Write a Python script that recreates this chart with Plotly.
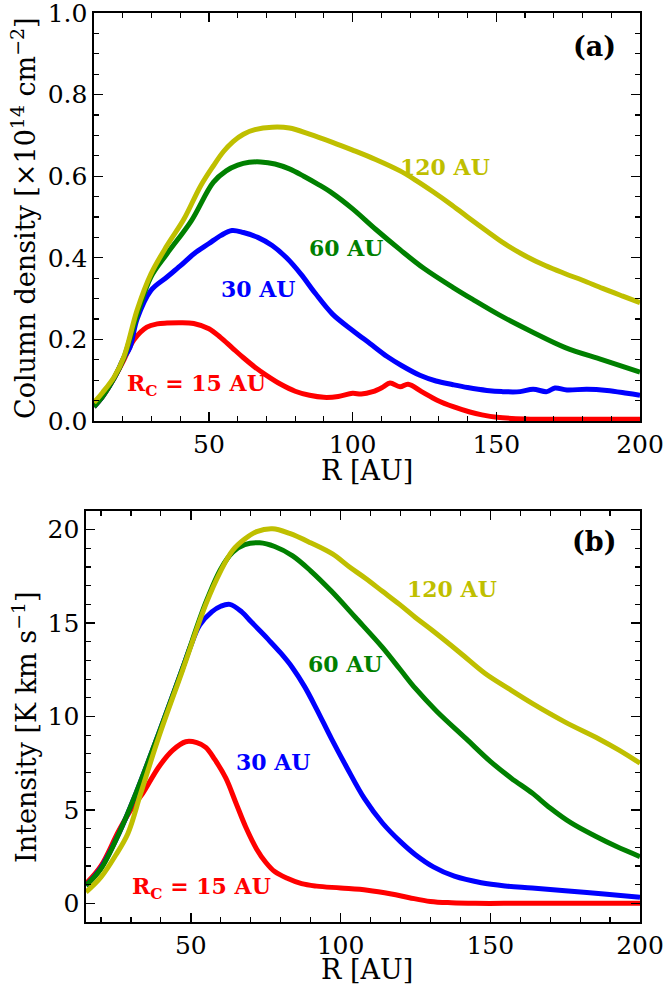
import plotly.graph_objects as go

# ---------------- Panel (a): column density [1e14 cm^-2] vs R [AU] ----------------
cd_r_120 = [10, 13, 17, 20.4, 25, 29.8, 35.4, 41.3, 47, 51.5, 55, 58.4, 62, 66, 72, 78, 85, 93,
            100, 108, 116.5, 122, 128, 134, 140, 147, 153, 160, 167, 174, 180, 187, 194, 200]
cd_120 = [0.045, 0.07, 0.108, 0.157, 0.272, 0.36, 0.43, 0.495, 0.575, 0.625, 0.66, 0.685, 0.703,
          0.714, 0.72, 0.718, 0.703, 0.683, 0.664, 0.641, 0.613, 0.59, 0.562, 0.532, 0.5, 0.464, 0.434,
          0.405, 0.381, 0.361, 0.345, 0.325, 0.306, 0.29]

cd_r_60 = [10, 13, 17, 20.4, 25, 29.8, 35.4, 43.8, 51.5, 56, 60, 64, 68, 73, 78, 83, 88, 93, 100, 108,
           116.5, 125, 135, 142, 151, 162, 174, 187, 200]
cd_60 = [0.035, 0.06, 0.105, 0.155, 0.26, 0.353, 0.41, 0.49, 0.585, 0.613, 0.627, 0.634, 0.635, 0.630,
         0.618, 0.60, 0.58, 0.558, 0.52, 0.47, 0.42, 0.373, 0.327, 0.297, 0.26, 0.22, 0.18, 0.15, 0.12]

cd_r_30 = [10, 13, 17, 20.4, 22.5, 25, 29.8, 35.4, 40, 44.8, 50, 54.2, 58, 62, 67, 72, 77, 82, 87, 93,
           100, 106, 112, 117, 123.4, 129, 134.9, 140, 146.7, 152, 158.3, 162.8, 167.6, 170.4, 174.6,
           181.5, 188.5, 195.5, 200]
cd_30 = [0.035, 0.06, 0.105, 0.155, 0.18, 0.25, 0.32, 0.353, 0.38, 0.41, 0.435, 0.455, 0.467, 0.462,
         0.45, 0.43, 0.40, 0.36, 0.313, 0.262, 0.222, 0.19, 0.158, 0.136, 0.112, 0.098, 0.089, 0.082,
         0.075, 0.072, 0.072, 0.078, 0.072, 0.081, 0.076, 0.078, 0.075, 0.068, 0.063]

cd_r_15 = [10, 13, 17, 20.4, 23.9, 28.4, 32, 35.4, 40, 44.7, 50, 54, 58, 62, 66, 70, 75, 80, 85, 90,
           95, 100, 103, 107, 110.5, 113, 116.5, 119.3, 124, 129.4, 135, 140.8, 145, 150.2, 160, 175, 200]
cd_15 = [0.035, 0.06, 0.105, 0.15, 0.199, 0.23, 0.238, 0.24, 0.241, 0.239, 0.226, 0.205, 0.18, 0.155,
         0.132, 0.112, 0.09, 0.073, 0.063, 0.058, 0.06, 0.068, 0.066, 0.072, 0.083, 0.093, 0.084, 0.09,
         0.072, 0.051, 0.035, 0.022, 0.015, 0.009, 0.005, 0.004, 0.004]

# ---------------- Panel (b): intensity [K km s^-1] vs R [AU] ----------------
in_r_120 = [15, 20, 25, 29, 33.3, 39.3, 47.3, 55, 60, 64, 68, 72, 77.3, 83, 90, 97.3, 103, 108.3, 114,
            119.7, 125, 130.7, 140, 148.3, 156, 164, 175, 186.3, 193, 200]
in_120 = [0.6, 1.4, 2.6, 3.74, 5.9, 8.9, 12.5, 16.0, 17.8, 18.9, 19.5, 19.9, 20.05, 19.8, 19.3, 18.7,
          18.0, 17.4, 16.7, 16.0, 15.3, 14.6, 13.4, 12.3, 11.5, 10.7, 9.7, 8.8, 8.2, 7.5]

in_r_60 = [15, 20, 26, 31.7, 39.3, 47.3, 55, 60, 64, 68, 73, 78, 84, 90, 97, 105, 114, 120, 125, 132,
           142, 150, 157, 164, 170, 177, 185, 192, 200]
in_60 = [0.95, 1.85, 3.74, 5.9, 9.1, 12.6, 16.1, 17.9, 18.8, 19.2, 19.3, 19.1, 18.6, 17.8, 16.7, 15.3,
         13.7, 12.5, 11.5, 10.3, 8.8, 7.6, 6.7, 5.9, 5.1, 4.3, 3.6, 3.05, 2.5]

in_r_30 = [15, 20, 26, 31.7, 39.3, 47.3, 50, 53, 57, 60, 63, 67, 70, 73, 76, 80, 84, 88, 92, 97, 102,
           108, 114, 120, 125, 131, 138, 147, 155, 164, 175, 188, 200]
in_30 = [0.95, 1.9, 3.74, 5.9, 9.1, 12.6, 13.8, 14.9, 15.6, 15.9, 16.0, 15.6, 15.1, 14.6, 14.1, 13.4,
         12.6, 11.6, 10.4, 8.8, 7.3, 5.6, 4.3, 3.3, 2.6, 1.95, 1.45, 1.1, 0.93, 0.82, 0.67, 0.5, 0.33]

in_r_15 = [15, 20, 26, 31, 34, 39.3, 44, 48.3, 52, 55, 58, 61.7, 65, 68.3, 72, 75, 78, 82, 87, 92,
           100, 109, 117, 123, 130, 137, 145, 160, 180, 200]
in_15 = [1.05, 2.0, 3.9, 5.25, 5.9, 7.3, 8.2, 8.65, 8.6, 8.35, 7.7, 6.7, 5.4, 4.1, 2.9, 2.2, 1.7,
         1.35, 1.05, 0.92, 0.82, 0.7, 0.5, 0.3, 0.1, 0.03, 0.0, 0.0, 0.0, 0.0]

colors = {"15": "#ff0000", "30": "#0000ff", "60": "#008000", "120": "#bfbf00"}
FONT = "DejaVu Serif"
LW = 5
W, H = 666, 992
OFF = 0  # body margin is removed by the post script, so the figure sits at the window corner


def fx(px):
    return (px - OFF) / W


def fy(py):
    return 1 - (py - OFF) / H


fig = go.Figure()


def add(x, y, c, xa, ya):
    fig.add_trace(go.Scatter(x=x, y=y, mode="lines", xaxis=xa, yaxis=ya,
                             line=dict(color=c, width=LW, shape="spline", smoothing=1.0),
                             showlegend=False, hoverinfo="skip"))


add(cd_r_15, cd_15, colors["15"], "x", "y")
add(cd_r_30, cd_30, colors["30"], "x", "y")
add(cd_r_60, cd_60, colors["60"], "x", "y")
add(cd_r_120, cd_120, colors["120"], "x", "y")

add(in_r_15, in_15, colors["15"], "x2", "y2")
add(in_r_30, in_30, colors["30"], "x2", "y2")
add(in_r_60, in_60, colors["60"], "x2", "y2")
add(in_r_120, in_120, colors["120"], "x2", "y2")

tickfont = dict(family=FONT, size=25, color="black")
titlefont = dict(family=FONT, size=27, color="black")


def axis_common(minor_dtick):
    return dict(showline=True, linecolor="black", linewidth=1.6, mirror="allticks",
                ticks="inside", ticklen=9, tickwidth=1.4, tickcolor="black",
                showgrid=False, zeroline=False, tickfont=tickfont, automargin=False,
                ticklabeloverflow="allow", fixedrange=True,
                minor=dict(ticks="inside", ticklen=5, tickwidth=1.2, tickcolor="black",
                           showgrid=False, dtick=minor_dtick))


xa1 = axis_common(10)
xa1.update(domain=[fx(94), fx(640)], range=[10, 200], anchor="y", tick0=0, dtick=50)
ya1 = axis_common(0.05)
ya1.update(domain=[fy(421), fy(13)], range=[0, 1.0], anchor="x", tick0=0, dtick=0.2,
           tickformat=".1f")
xa2 = axis_common(10)
xa2.update(domain=[fx(86), fx(640)], range=[15, 200], anchor="y2", tick0=0, dtick=50)
ya2 = axis_common(1)
ya2.update(domain=[fy(922), fy(511)], range=[-1, 21], anchor="x2", tick0=0, dtick=5)

ann = []


def title(text, px, py, angle=0):
    ann.append(dict(text=text, x=fx(px), y=fy(py), xref="paper", yref="paper", showarrow=False,
                    textangle=angle, font=titlefont, xanchor="center", yanchor="middle"))


title("R [AU]", 367, 470)
title("Column density [×10<sup>14</sup> cm<sup>−2</sup>]", 24, 218, -90)
title("R [AU]", 367, 969)
title("Intensity [K km s<sup>−1</sup>]", 24, 727, -90)


def label(text, x, y, c, xr, yr, size=22):
    ann.append(dict(text="<b>" + text + "</b>", x=x, y=y, xref=xr, yref=yr, showarrow=False,
                    font=dict(family=FONT, size=size, color=c), xanchor="center", yanchor="middle"))


label("(a)", 184.3, 0.919, "black", "x", "y", size=27)
label("120 AU", 132.1, 0.623, colors["120"], "x", "y")
label("60 AU", 98, 0.424, colors["60"], "x", "y")
label("30 AU", 67.1, 0.324, colors["30"], "x", "y")
label("R<sub>C</sub> = 15 AU", 45.8, 0.088, colors["15"], "x", "y")

label("(b)", 184.8, 19.36, "black", "x2", "y2", size=27)
label("120 AU", 137.3, 16.8, colors["120"], "x2", "y2")
label("60 AU", 101.7, 12.8, colors["60"], "x2", "y2")
label("30 AU", 77.7, 7.54, colors["30"], "x2", "y2")
label("R<sub>C</sub> = 15 AU", 53.7, 0.8, colors["15"], "x2", "y2")

fig.update_layout(width=W, height=H, margin=dict(l=0, r=0, t=0, b=0, autoexpand=False),
                  paper_bgcolor="white", plot_bgcolor="white", hovermode=False,
                  xaxis=xa1, yaxis=ya1, xaxis2=xa2, yaxis2=ya2, annotations=ann,
                  font=dict(family=FONT, color="black"))

fig.write_html("out.html", config={"displayModeBar": False, "staticPlot": True},
               post_script="document.body.style.margin='0';document.body.style.overflow='hidden';")
